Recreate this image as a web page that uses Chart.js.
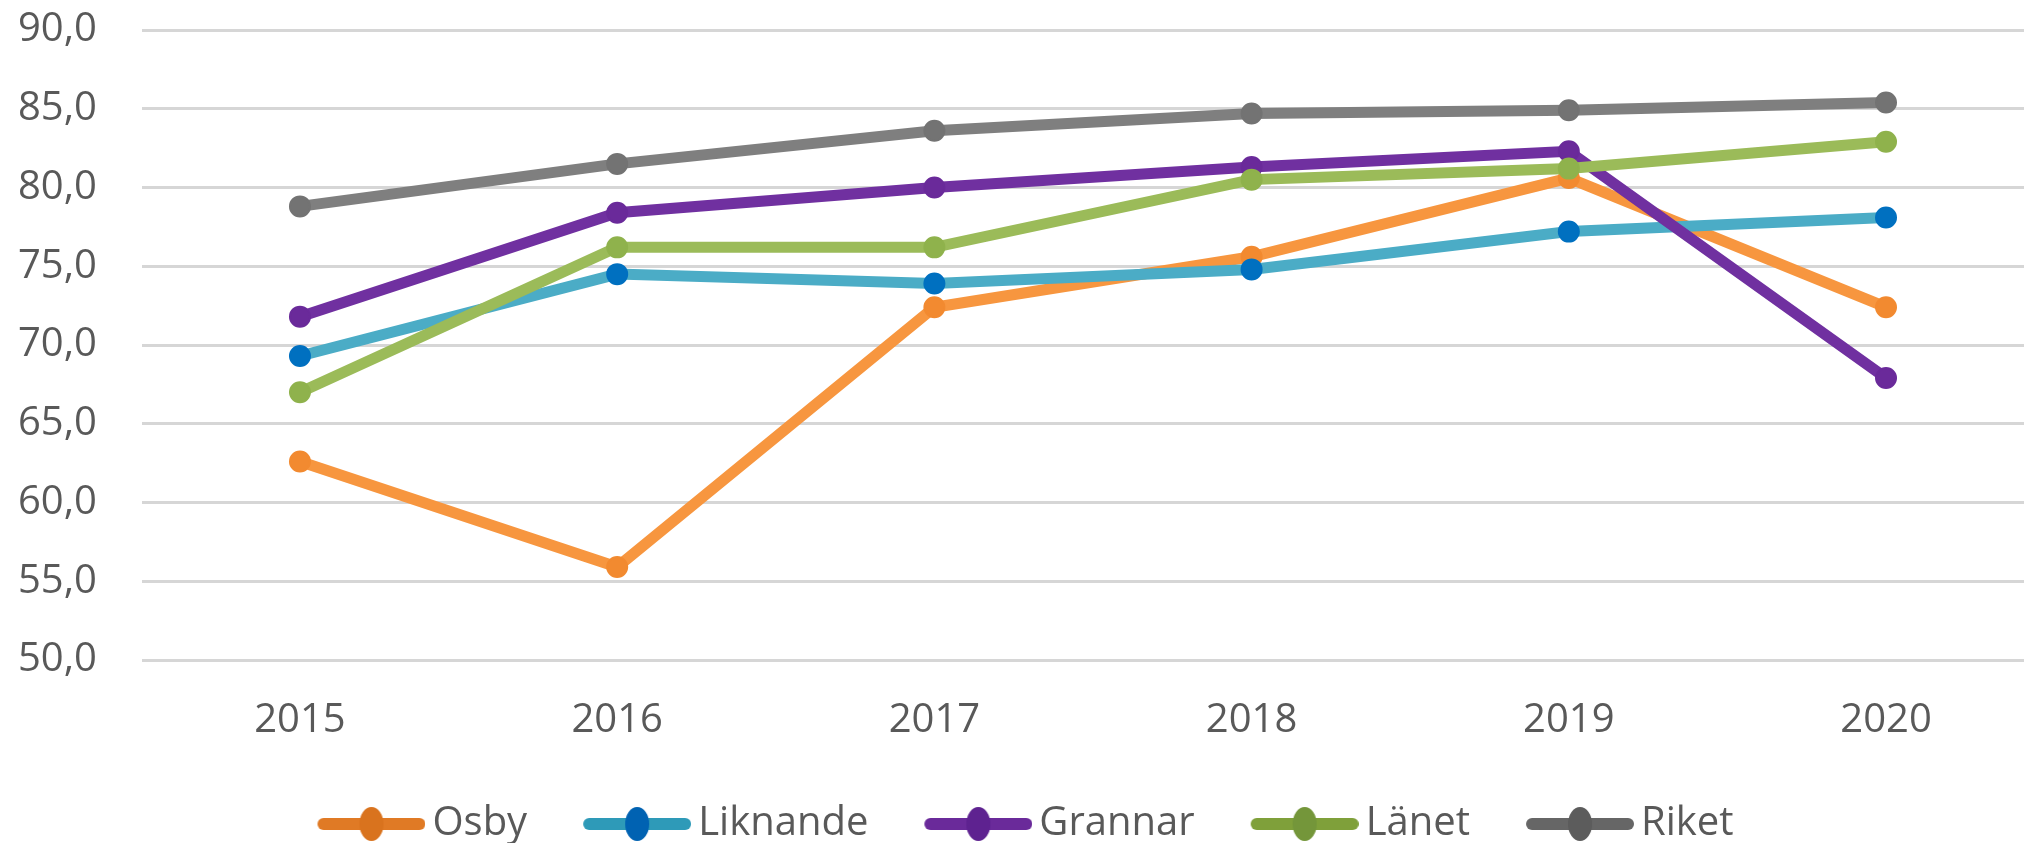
<!DOCTYPE html>
<html>
<head>
<meta charset="utf-8">
<script src="https://cdn.jsdelivr.net/npm/chart.js@4.4.0/dist/chart.umd.min.js"></script>
<style>
  html, body { margin: 0; padding: 0; background: #fff; overflow: hidden; }
  #frame { width: 2025px; height: 843px; overflow: hidden; }
  #wrap { width: 2036px; height: 854px; position: relative; }
</style>
</head>
<body>
<div id="frame"><div id="wrap"><canvas id="chart"></canvas></div></div>
<script>
// data
const years = [2015, 2016, 2017, 2018, 2019, 2020];
const yTicks = [50, 55, 60, 65, 70, 75, 80, 85, 90];

const osby     = [62.6, 55.9, 72.4, 75.6, 80.6, 72.4];
const liknande = [69.3, 74.5, 73.9, 74.8, 77.2, 78.1];
const grannar  = [71.8, 78.4, 80.0, 81.3, 82.3, 67.9];
const lanet    = [67.0, 76.2, 76.2, 80.5, 81.2, 82.9];
const riket    = [78.8, 81.5, 83.6, 84.7, 84.9, 85.4];

const seriesNames = ["Osby", "Liknande", "Grannar", "Länet", "Riket"];
const seriesValues = [osby, liknande, grannar, lanet, riket];

// line colour, marker colour, legend line, legend marker
const styles = [
  ["#F7963F", "#F28A30", "#E07A25", "#D9731E"],
  ["#4BACC6", "#0070C0", "#2E9AB8", "#0062B2"],
  ["#7030A0", "#6A2A9A", "#6A2A9A", "#5E2290"],
  ["#9BBB59", "#8FB24C", "#7FA03A", "#74963A"],
  ["#7F7F7F", "#737373", "#666666", "#5C5C5C"],
];

const FONT = "'Open Sans', sans-serif";
const TEXT = "#595959";

// line with a dot, used as the legend symbol
function legendMark(lineColor, dotColor) {
  const c = document.createElement("canvas");
  c.width = 118;
  c.height = 38;
  const g = c.getContext("2d");
  g.strokeStyle = lineColor;
  g.lineWidth = 12;
  g.lineCap = "round";
  g.beginPath();
  g.moveTo(16, 19);
  g.lineTo(112, 19);
  g.stroke();
  g.fillStyle = dotColor;
  g.beginPath();
  g.ellipse(64, 19, 12, 17, 0, 0, Math.PI * 2);
  g.fill();
  return c;
}

const legendMarks = styles.map((s) => legendMark(s[2], s[3]));

const datasets = seriesNames.map((name, i) => ({
  label: name,
  data: years.map((yr, j) => ({ x: yr, y: seriesValues[i][j] })),
  borderColor: styles[i][0],
  backgroundColor: styles[i][1],
  pointBackgroundColor: styles[i][1],
  pointBorderColor: styles[i][1],
  borderWidth: 11,
  pointRadius: 10,
  pointBorderWidth: 2,
  tension: 0,
  order: seriesNames.length - i,
}));

new Chart(document.getElementById("chart"), {
  type: "line",
  data: { datasets },
  options: {
    responsive: true,
    maintainAspectRatio: false,
    animation: false,
    layout: { padding: { top: 30, right: 0, left: 18, bottom: 0 } },
    plugins: {
      tooltip: { enabled: false },
      legend: {
        position: "bottom",
        labels: {
          usePointStyle: true,
          pointStyleWidth: 92,
          padding: 59,
          color: TEXT,
          font: { family: FONT, size: 40 },
          generateLabels: (chart) =>
            chart.data.datasets.map((ds, i) => ({
              text: ds.label,
              pointStyle: legendMarks[i],
              fontColor: TEXT,
              hidden: false,
              datasetIndex: i,
              lineWidth: 0,
            })),
        },
      },
    },
    scales: {
      x: {
        type: "linear",
        min: 2014.502,
        max: 2020.435,
        grid: { display: false, drawTicks: true, tickLength: 37 },
        border: { display: false },
        afterBuildTicks: (axis) => {
          axis.ticks = years.map((v) => ({ value: v }));
        },
        ticks: {
          padding: 0,
          color: TEXT,
          font: { family: FONT, size: 40 },
          maxRotation: 0,
          callback: (v) => String(v),
        },
      },
      y: {
        min: 50,
        max: 90,
        afterBuildTicks: (axis) => {
          axis.ticks = yTicks.map((v) => ({ value: v }));
        },
        afterFit: (axis) => {
          axis.width = 124;
        },
        grid: { color: "#D6D6D6", lineWidth: 3, drawTicks: false },
        border: { display: false },
        ticks: {
          padding: 0,
          crossAlign: "far",
          color: TEXT,
          font: { family: FONT, size: 40 },
          callback: (v) => v.toFixed(1).replace(".", ","),
        },
      },
    },
  },
});
</script>
</body>
</html>
